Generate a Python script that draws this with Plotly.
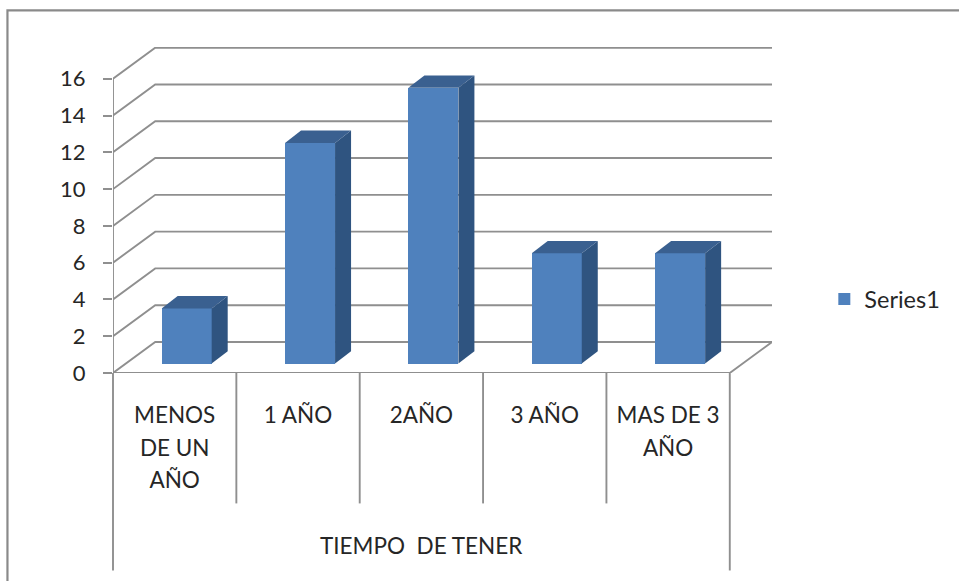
import plotly.graph_objects as go

categories = ["MENOS<br>DE UN<br>AÑO", "1 AÑO", "2AÑO", "3 AÑO", "MAS DE 3<br>AÑO"]
values = [3, 12, 15, 6, 6]
y_ticks = [0, 2, 4, 6, 8, 10, 12, 14, 16]
series_name = "Series1"
axis_title = "TIEMPO\u00a0\u00a0DE TENER"

W, H = 959, 581
X0, X_FRONT_END, X_BACK_END = 113.0, 729.5, 771.7
Y_ZERO, Y_TOP = 372.7, 47.0
PX_PER_UNIT = 18.375
n = len(categories)
px_cat = (X_FRONT_END - X0) / n
wall_dx = (X_BACK_END - X_FRONT_END) / px_cat
wall_dy = 31.0 / PX_PER_UNIT
y_max = (Y_ZERO - Y_TOP) / PX_PER_UNIT
plot_h = Y_ZERO - Y_TOP

bar_w = 50 / px_cat
bar_off = 12.0 / px_cat
bar_base = 9.4 / PX_PER_UNIT
side_dx = 16 / px_cat
side_dy = 12.3 / PX_PER_UNIT

FRONT, SIDE, TOP = "#4f81bd", "#2f5480", "#3a6090"
GRID = "#8f8f8f"
TEXT = "#262626"
FONT = "Lato"


def ypaper(px):
    return (Y_ZERO - px) / plot_h


def xpaper(px):
    return (px - X0) / (X_BACK_END - X0)


centers = [i + 0.5 + bar_off for i in range(n)]
fig = go.Figure()
fig.add_trace(go.Bar(
    x=centers, y=values, base=[bar_base] * n, width=bar_w, name=series_name,
    marker=dict(color=FRONT, line=dict(width=0)), showlegend=True, cliponaxis=False,
))
for c, v in zip(centers, values):
    xl, xr = c - bar_w / 2, c + bar_w / 2
    yb, yt = bar_base, bar_base + v
    fig.add_trace(go.Scatter(
        x=[xr, xr + side_dx, xr + side_dx, xr, xr],
        y=[yb, yb + side_dy, yt + side_dy, yt, yb],
        fill="toself", fillcolor=SIDE, mode="none", showlegend=False, hoverinfo="skip", cliponaxis=False,
    ))
    fig.add_trace(go.Scatter(
        x=[xl, xr, xr + side_dx, xl + side_dx, xl],
        y=[yt, yt, yt + side_dy, yt + side_dy, yt],
        fill="toself", fillcolor=TOP, mode="none", showlegend=False, hoverinfo="skip", cliponaxis=False,
    ))

line = dict(color=GRID, width=1.9)
shapes = []
for v in y_ticks:
    path = f"M 0 {v} L {wall_dx} {v + wall_dy} L {n + wall_dx} {v + wall_dy}"
    shapes.append(dict(type="path", path=path, xref="x", yref="y", line=line, layer="below"))
# floor outline and value axis
shapes.append(dict(type="path", path=f"M 0 0 L {n} 0 L {n + wall_dx} {wall_dy}",
                   xref="x", yref="y", line=line, layer="below"))
shapes.append(dict(type="line", x0=0, x1=0, y0=0, y1=y_ticks[-1], xref="x", yref="y", line=line, layer="below"))
# category separators beneath the axis
for i in range(n + 1):
    end = 570 if i in (0, n) else 503
    shapes.append(dict(type="line", x0=xpaper(X0 + i * px_cat), x1=xpaper(X0 + i * px_cat),
                       y0=0, y1=ypaper(end), xref="paper", yref="paper", line=line))
# outer chart frame
shapes.append(dict(type="rect", x0=xpaper(7.5), x1=xpaper(1000), y0=ypaper(10.5), y1=ypaper(620),
                   xref="paper", yref="paper", line=dict(color="#8a8a8a", width=2.2)))


def tick_text(label):
    return "<br>".join(f"<span style='font-size:22.5px'>{p}</span>" for p in label.split("<br>"))


fig.update_layout(
    width=W, height=H, autosize=False,
    margin=dict(l=X0, r=W - X_BACK_END, t=Y_TOP, b=H - Y_ZERO, pad=0, autoexpand=False),
    paper_bgcolor="white", plot_bgcolor="rgba(0,0,0,0)",
    font=dict(family=FONT, color=TEXT),
    xaxis=dict(
        range=[0, n + wall_dx], tickmode="array", tickvals=[i + 0.5 for i in range(n)],
        ticktext=[tick_text(c) for c in categories], tickfont=dict(size=25, family=FONT, color=TEXT),
        ticks="", showgrid=False, zeroline=False, showline=False, ticklabelstandoff=24,
        tickangle=0, automargin=False,
    ),
    yaxis=dict(
        range=[0, y_max], tickmode="array", tickvals=y_ticks, ticks="outside", ticklen=9,
        tickwidth=1.9, tickcolor=GRID, tickfont=dict(size=22, family=FONT, color=TEXT),
        showgrid=False, zeroline=False, showline=False, automargin=False, ticklabelstandoff=13,
    ),
    legend=dict(x=xpaper(824), y=ypaper(299), xanchor="left", yanchor="middle",
                font=dict(size=23.5, family=FONT, color=TEXT), bgcolor="rgba(0,0,0,0)", itemwidth=30),
    shapes=shapes,
    annotations=[dict(text=axis_title, x=n / 2, y=ypaper(545), xref="x", yref="paper", showarrow=False,
                      xanchor="center", yanchor="middle", font=dict(size=22.5, family=FONT, color=TEXT))],
    bargap=0,
)
fig.write_html("out.html", config={"displayModeBar": False},
               post_script="document.body.style.margin='0';document.documentElement.style.overflow='hidden';")
